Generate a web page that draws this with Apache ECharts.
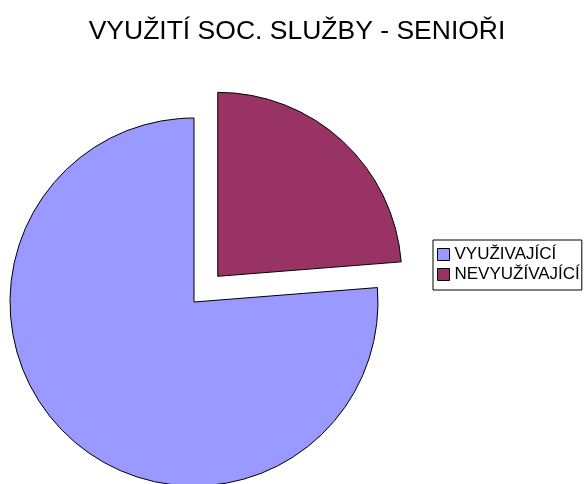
<!DOCTYPE html>
<html><head><meta charset="utf-8">
<script src="https://cdn.jsdelivr.net/npm/echarts@6/dist/echarts.min.js"></script>
<style>html,body{margin:0;padding:0;background:#fff}#c{width:585px;height:484px}</style>
</head><body><div id="c"></div>
<script>
const titleText = 'VYUŽITÍ SOC. SLUŽBY - SENIOŘI';
const categories = ['NEVYUŽÍVAJÍCÍ', 'VYUŽIVAJÍCÍ'];
const values = [19, 61];
const colors = ['#993366', '#9999FF'];
const legendOrder = ['VYUŽIVAJÍCÍ', 'NEVYUŽÍVAJÍCÍ'];

const chart = echarts.init(document.getElementById('c'), null, {renderer: 'canvas'});
chart.setOption({
  animation: false,
  backgroundColor: '#fff',
  title: {
    text: titleText, left: 292, top: 13, textAlign: 'center',
    textStyle: {fontFamily: 'Liberation Sans, Arial', fontSize: 26.5, fontWeight: 'normal', color: '#000'}
  },
  legend: {
    orient: 'vertical', left: 433, top: 240,
    data: legendOrder,
    icon: 'rect', itemWidth: 12, itemHeight: 12, itemGap: 3,
    borderColor: '#000', borderWidth: 1, padding: [6, 2, 7, 4],
    selectedMode: false,
    textStyle: {fontFamily: 'Liberation Sans, Arial', fontSize: 17, color: '#000'},
    itemStyle: {borderColor: '#000', borderWidth: 1}
  },
  series: [{
    type: 'pie',
    center: [194, 302], radius: 184,
    startAngle: 90, clockwise: true,
    selectedMode: 'single', selectedOffset: 35,
    label: {show: false}, labelLine: {show: false},
    emphasis: {disabled: true},
    itemStyle: {borderColor: '#000', borderWidth: 1},
    data: categories.map((n, i) => ({
      name: n, value: values[i], selected: i === 0,
      itemStyle: {color: colors[i]},
      select: {itemStyle: {color: colors[i], borderColor: '#000', borderWidth: 1}}
    }))
  }]
});
</script></body></html>
